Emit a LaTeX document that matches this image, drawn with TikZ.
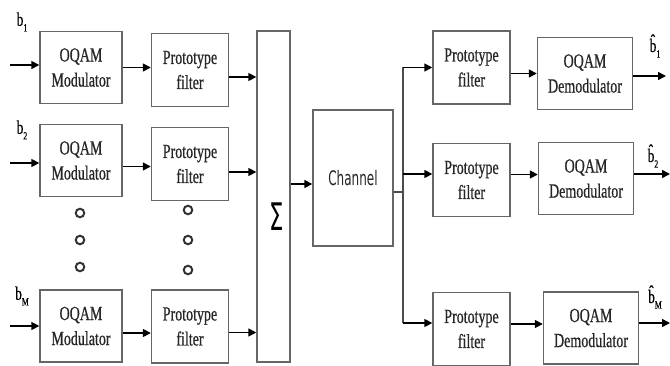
\documentclass[tikz,border=0pt]{standalone}
\usepackage{fontspec}
\setmainfont{Liberation Serif}
\newfontfamily\narrowserif[FakeStretch=0.7,FakeBold=0.6]{Liberation Serif}
\newfontfamily\narrowsans[FakeStretch=0.6]{DejaVu Sans}
\usetikzlibrary{arrows.meta,calc}

% symbol with a small lowered index
\newcommand{\sym}[2]{#1\raisebox{-0.3em}{\fontsize{11}{11}\selectfont #2}}

\begin{document}
\begin{tikzpicture}[
    x=1pt, y=-1pt,
    block/.style={draw=black!60, line width=1.4pt, fill=white, align=center, inner sep=0pt,
      text=black!85, font=\narrowserif\fontsize{20}{25}\selectfont},
    modbox/.style={block, minimum width=82pt, minimum height=72pt},
    filterbox/.style={block, minimum width=77pt, minimum height=73pt},
    dembox/.style={block, minimum width=95pt, minimum height=72pt},
    arrow/.style={-{Triangle[length=8pt,width=8pt]}, line width=1.6pt},
    wire/.style={draw=black!70, line width=1.5pt},
    dot/.style={circle, draw=black!80, line width=2pt, minimum size=8.5pt, inner sep=0pt},
    tag/.style={font=\narrowserif\fontsize{19}{19}\selectfont, inner sep=0pt}
  ]
    \useasboundingbox (0,0) rectangle (670,366);

    % transmitter side
    \node[modbox] (mod1) at (81,67.5) {OQAM\\Modulator};
    \node[modbox] (mod2) at (81,160.5) {OQAM\\Modulator};
    \node[modbox] (modM) at (81,326) {OQAM\\Modulator};
    \node[filterbox] (pf1) at (190,70) {Prototype\\filter};
    \node[filterbox] (pf2) at (190,164) {Prototype\\filter};
    \node[filterbox] (pfM) at (190,326.5) {Prototype\\filter};

    \foreach \y [count=\i] in {213,240,267} \node[dot] (mdot\i) at (80,\y) {};
    \foreach \y [count=\i] in {210,240,270} \node[dot] (fdot\i) at (188,\y) {};

    \node[block, minimum width=33pt, minimum height=331pt] (sum) at (273.5,196.5) {};
    \node[inner sep=0pt, font=\narrowsans\fontsize{38}{38}\selectfont] (sig) at (277,217) {Σ};

    \node[block, minimum width=80pt, minimum height=136pt,
      font=\narrowsans\fontsize{20}{24}\selectfont] (chan) at (353,178) {Channel};

    % receiver side
    \node[filterbox] (rf1) at (471.5,67.5) {Prototype\\filter};
    \node[filterbox] (rf2) at (471.5,180) {Prototype\\filter};
    \node[filterbox] (rfM) at (471.5,329) {Prototype\\filter};
    \node[dembox] (dem1) at (585,73.5) {OQAM\\Demodulator};
    \node[dembox] (dem2) at (586,178.5) {OQAM\\Demodulator};
    \node[dembox] (demM) at (591,328) {OQAM\\Demodulator};

    % labels
    \node[tag] (b1) at (22,22) {\sym{b}{1}};
    \node[tag] (b2) at (22,130) {\sym{b}{2}};
    \node[tag] (bM) at (22,296) {\sym{b}{M}};
    \node[tag] (h1) at (655,46) {\sym{\^{b}}{1}};
    \node[tag] (h2) at (653,156) {\sym{\^{b}}{2}};
    \node[tag] (hM) at (655,297) {\sym{\^{b}}{M}};

    % inputs
    \coordinate (in1) at (10,65);
    \coordinate (in2) at (10,163);
    \coordinate (inM) at (10,326);
    \draw[arrow] (in1) -- (in1 -| mod1.west);
    \draw[arrow] (in2) -- (in2 -| mod2.west);
    \draw[arrow] (inM) -- (inM -| modM.west);

    \draw[arrow] (mod1.east) -- (mod1.east -| pf1.west);
    \draw[arrow] ([yshift=-6pt]mod2.east) -- ([yshift=-6pt]mod2.east -| pf2.west);
    \draw[arrow] ([yshift=-7pt]modM.east) -- ([yshift=-7pt]modM.east -| pfM.west);

    \draw[arrow] ([yshift=-7pt]pf1.east) -- ([yshift=-7pt]pf1.east -| sum.west);
    \draw[arrow] ([yshift=-8pt]pf2.east) -- ([yshift=-8pt]pf2.east -| sum.west);
    \draw[arrow] ([yshift=-6pt]pfM.east) -- ([yshift=-6pt]pfM.east -| sum.west);

    \draw[arrow] ([yshift=-6pt]chan.west -| sum.east) -- ([yshift=-6pt]chan.west);

    % channel output split
    \coordinate (split) at (403,192);
    \draw[wire] (split -| chan.east) -- (split);
    \draw[wire] (split |- rf1.west) -- ([yshift=6pt]split |- rfM.west);
    \draw[arrow] (split |- rf1.west) -- (rf1.west);
    \draw[arrow] ([yshift=6pt]split |- rf2.west) -- ([yshift=6pt]rf2.west);
    \draw[arrow] ([yshift=6pt]split |- rfM.west) -- ([yshift=6pt]rfM.west);

    \draw[arrow] (rf1.east |- dem1.west) -- (dem1.west);
    \draw[arrow] ([yshift=4pt]rf2.east |- dem2.west) -- ([yshift=4pt]dem2.west);
    \draw[arrow] ([yshift=4pt]rfM.east |- demM.west) -- ([yshift=4pt]demM.west);

    % outputs
    \coordinate (out1) at (666,76);
    \coordinate (out2) at (670,174);
    \coordinate (outM) at (670,323);
    \draw[arrow] (dem1.east |- out1) -- (out1);
    \draw[arrow] (dem2.east |- out2) -- (out2);
    \draw[arrow] (demM.east |- outM) -- (outM);
\end{tikzpicture}
\end{document}
